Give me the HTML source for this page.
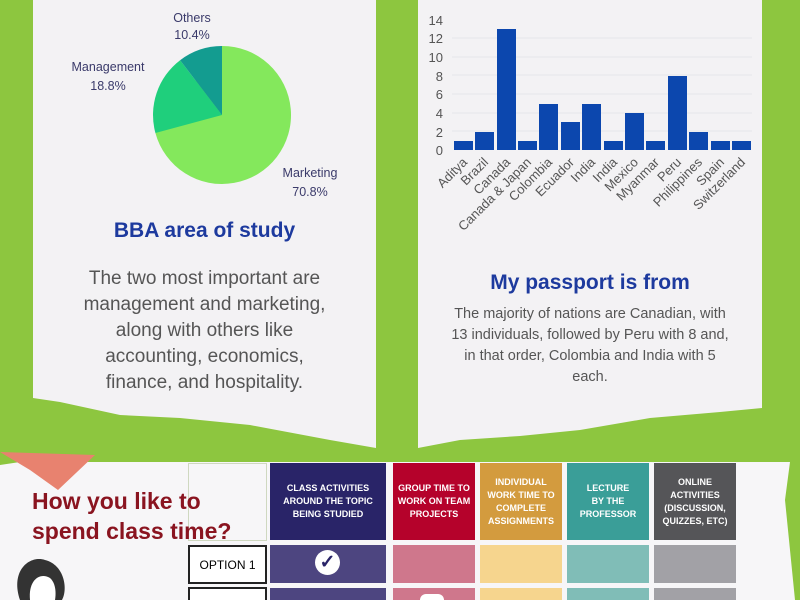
<!DOCTYPE html>
<html style="width:800px;height:600px;overflow:hidden"><head><style>
body{margin:0;width:800px;height:600px;overflow:hidden;background:#8dc63f;position:relative;font-family:"Liberation Sans",sans-serif}
.a{position:absolute}
.t{position:absolute;text-align:center;color:#555}
.hdr{position:absolute;top:463px;height:77px;color:#fff;font-size:9px;font-weight:bold;display:flex;align-items:center;justify-content:center;text-align:center;line-height:13px}
.cell{position:absolute;height:12px}
</style></head><body>
<svg class="a" style="left:0;top:0" width="800" height="600">
<path d="M33 0 H376 V448 L330 440 L250 425 L180 418 L120 415 L60 402 L33 398Z" fill="#f3f2f4"/>
<path d="M418 0 H762 V408 L720 412 L650 418 L580 430 L520 436 L460 440 L418 448Z" fill="#f3f2f4"/>
<path d="M0 465 L20 462 H790 L785 500 L795 600 H0Z" fill="#f7f6f8"/>
<path d="M0 452 L95 455 L58 490 L30 470Z" fill="#e8826f"/>
<path d="M222 46 A69 69 0 1 1 155.4 133 Z" fill="#84e85c"/>
<path d="M222 115 L155.4 133 A69 69 0 0 1 180.1 60.2Z" fill="#1fcf7c"/>
<path d="M222 115 L180.1 60.2 A69 69 0 0 1 222 46Z" fill="#139c90"/>
<g font-size="12.5" fill="#3a3a6a" text-anchor="middle">
<text x="192" y="22">Others</text><text x="192" y="39">10.4%</text>
<text x="108" y="71">Management</text><text x="108" y="90">18.8%</text>
<text x="310" y="177">Marketing</text><text x="310" y="196">70.8%</text>
</g>
<g stroke="#e6e6ea" stroke-width="1">
<line x1="452" y1="38" x2="752" y2="38"/><line x1="452" y1="57" x2="752" y2="57"/><line x1="452" y1="75" x2="752" y2="75"/><line x1="452" y1="94" x2="752" y2="94"/><line x1="452" y1="113" x2="752" y2="113"/><line x1="452" y1="131" x2="752" y2="131"/>
</g>
<g font-size="13" fill="#555" text-anchor="end">
<text x="443" y="25">14</text><text x="443" y="43">12</text><text x="443" y="62">10</text><text x="443" y="81">8</text><text x="443" y="99">6</text><text x="443" y="118">4</text><text x="443" y="137">2</text><text x="443" y="155">0</text>
</g>
<g fill="#0c47ae">
<rect x="454" y="141" width="19" height="9"/>
<rect x="475" y="132" width="19" height="18"/>
<rect x="497" y="29" width="19" height="121"/>
<rect x="518" y="141" width="19" height="9"/>
<rect x="539" y="104" width="19" height="46"/>
<rect x="561" y="122" width="19" height="28"/>
<rect x="582" y="104" width="19" height="46"/>
<rect x="604" y="141" width="19" height="9"/>
<rect x="625" y="113" width="19" height="37"/>
<rect x="646" y="141" width="19" height="9"/>
<rect x="668" y="76" width="19" height="74"/>
<rect x="689" y="132" width="19" height="18"/>
<rect x="711" y="141" width="19" height="9"/>
<rect x="732" y="141" width="19" height="9"/>
</g>
<g font-size="13" fill="#555" text-anchor="end">
<text transform="translate(468,163) rotate(-45)">Aditya</text>
<text transform="translate(489,163) rotate(-45)">Brazil</text>
<text transform="translate(511,163) rotate(-45)">Canada</text>
<text transform="translate(532,163) rotate(-45)">Canada &amp; Japan</text>
<text transform="translate(553,163) rotate(-45)">Colombia</text>
<text transform="translate(575,163) rotate(-45)">Ecuador</text>
<text transform="translate(596,163) rotate(-45)">India</text>
<text transform="translate(618,163) rotate(-45)">India</text>
<text transform="translate(639,163) rotate(-45)">Mexico</text>
<text transform="translate(660,163) rotate(-45)">Myanmar</text>
<text transform="translate(682,163) rotate(-45)">Peru</text>
<text transform="translate(703,163) rotate(-45)">Philippines</text>
<text transform="translate(725,163) rotate(-45)">Spain</text>
<text transform="translate(746,163) rotate(-45)">Switzerland</text>
</g>
<path d="M20 600 C10 570 30 555 45 560 C65 565 68 590 62 600Z" fill="#333"/>
<path d="M30 600 C28 580 40 572 50 578 C58 585 55 600 55 600Z" fill="#fff"/>
</svg>
<div class="t" style="left:33px;width:343px;top:219px;font-size:21px;font-weight:bold;color:#1d3a9e">BBA area of study</div>
<div class="t" style="left:33px;width:343px;top:266px;font-size:19px;line-height:26px;color:#555;white-space:nowrap">The two most important are<br>management and marketing,<br>along with others like<br>accounting, economics,<br>finance, and hospitality.</div>
<div class="t" style="left:418px;width:344px;top:271px;font-size:21px;font-weight:bold;color:#1d3a9e">My passport is from</div>
<div class="t" style="left:418px;width:344px;top:304px;font-size:14.5px;line-height:21px;color:#555;white-space:nowrap">The majority of nations are Canadian, with<br>13 individuals, followed by Peru with 8 and,<br>in that order, Colombia and India with 5<br>each.</div>
<div class="a" style="left:188px;top:463px;width:77px;height:76px;border:1px solid #cfd8c0"></div>
<div class="a" style="left:32px;top:486px;font-size:23px;font-weight:bold;color:#8a1420;line-height:30px">How you like to<br>spend class time?</div>
<div class="hdr" style="left:270px;width:116px;background:#292468">CLASS ACTIVITIES<br>AROUND THE TOPIC<br>BEING STUDIED</div>
<div class="hdr" style="left:393px;width:82px;background:#b5022b">GROUP TIME TO<br>WORK ON TEAM<br>PROJECTS</div>
<div class="hdr" style="left:480px;width:82px;background:#d39b3e">INDIVIDUAL<br>WORK TIME TO<br>COMPLETE<br>ASSIGNMENTS</div>
<div class="hdr" style="left:567px;width:82px;background:#3a9e98">LECTURE<br>BY THE<br>PROFESSOR</div>
<div class="hdr" style="left:654px;width:82px;background:#555558">ONLINE<br>ACTIVITIES<br>(DISCUSSION,<br>QUIZZES, ETC)</div>
<div class="a" style="left:188px;top:545px;width:75px;height:35px;border:2px solid #222;background:#fff;font-size:12px;display:flex;align-items:center;justify-content:center">OPTION 1</div>
<div class="a" style="left:188px;top:587px;width:75px;height:13px;border:2px solid #222;border-bottom:none;background:#fff"></div>
<div class="cell" style="left:270px;top:545px;height:38px;width:116px;background:#4d4580"></div>
<div class="cell" style="left:393px;top:545px;height:38px;width:82px;background:#cf778c"></div>
<div class="cell" style="left:480px;top:545px;height:38px;width:82px;background:#f6d58e"></div>
<div class="cell" style="left:567px;top:545px;height:38px;width:82px;background:#80bdb7"></div>
<div class="cell" style="left:654px;top:545px;height:38px;width:82px;background:#a2a1a6"></div>
<div class="cell" style="left:270px;top:588px;width:116px;background:#4d4580"></div>
<div class="cell" style="left:393px;top:588px;width:82px;background:#cf778c"></div>
<div class="cell" style="left:480px;top:588px;width:82px;background:#f6d58e"></div>
<div class="cell" style="left:567px;top:588px;width:82px;background:#80bdb7"></div>
<div class="cell" style="left:654px;top:588px;width:82px;background:#a2a1a6"></div>
<div class="a" style="left:315px;top:550px;width:25px;height:25px;border-radius:50%;background:#fff;color:#292468;font-size:19px;font-weight:bold;text-align:center;line-height:25px">✓</div>
<div class="a" style="left:420px;top:594px;width:24px;height:6px;border-radius:12px 12px 0 0;background:#fff"></div>
</body></html>
